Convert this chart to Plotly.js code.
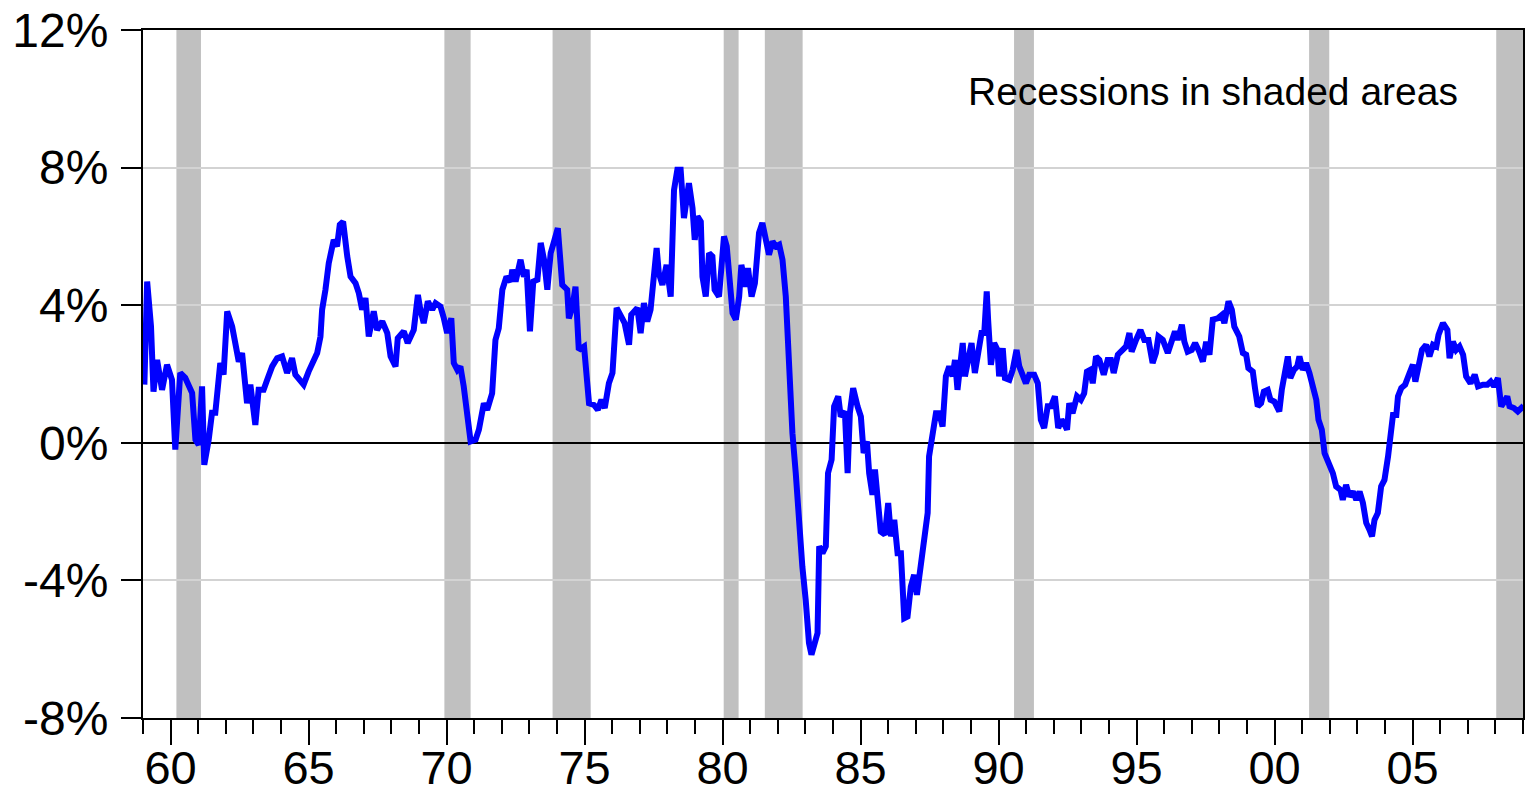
<!DOCTYPE html>
<html>
<head>
<meta charset="utf-8">
<script src="https://cdn.plot.ly/plotly-3.0.1.min.js"></script>
<style>html,body{margin:0;padding:0;background:#fff;}#chart{width:1532px;height:798px;}</style>
</head>
<body>
<div id="chart"></div>
<script>
// ---- data ----
const years = [
1959.05,1959.15,1959.29,1959.38,1959.51,1959.69,1959.87,1960.05,1960.17,1960.35,1960.53,1960.78,1960.90,1961.02,1961.14,1961.22,1961.38,1961.50,1961.62,1961.80,1961.92,
1962.05,1962.23,1962.41,1962.47,1962.59,1962.77,1962.89,1963.07,1963.19,1963.37,1963.50,1963.68,1963.86,1964.04,1964.22,1964.40,1964.52,1964.70,1964.82,
1965.00,1965.19,1965.31,1965.43,1965.49,1965.61,1965.73,1965.91,1966.03,1966.13,1966.25,1966.40,1966.52,1966.70,1966.82,1966.94,1967.06,1967.18,1967.36,1967.48,1967.67,1967.85,1967.97,
1968.15,1968.23,1968.45,1968.59,1968.81,1968.96,1969.05,1969.17,1969.32,1969.48,1969.60,1969.78,1969.90,1970.02,1970.17,1970.26,1970.39,1970.50,1970.62,1970.75,1970.87,
1971.05,1971.17,1971.35,1971.47,1971.65,1971.77,1971.89,1972.02,1972.17,1972.32,1972.38,1972.50,1972.68,1972.80,1972.90,1973.02,1973.14,1973.29,1973.41,1973.53,1973.65,1973.77,1973.91,
1974.03,1974.19,1974.37,1974.43,1974.56,1974.67,1974.79,1974.98,1975.16,1975.34,1975.48,1975.61,1975.73,1975.88,1976.01,1976.16,1976.31,1976.45,1976.61,1976.69,1976.91,
1977.03,1977.15,1977.27,1977.39,1977.51,1977.61,1977.69,1977.82,1977.97,1978.12,1978.24,1978.36,1978.48,1978.60,1978.78,1978.91,1978.99,1979.09,1979.21,1979.27,1979.39,1979.51,1979.63,1979.71,1979.87,
1980.05,1980.15,1980.27,1980.36,1980.48,1980.60,1980.68,1980.84,1980.92,1981.05,1981.17,1981.32,1981.44,1981.56,1981.68,1981.81,1981.93,1982.05,1982.17,1982.29,1982.41,1982.53,1982.65,1982.77,1982.89,
1983.01,1983.13,1983.22,1983.34,1983.44,1983.50,1983.62,1983.74,1983.82,1983.95,1984.04,1984.19,1984.28,1984.43,1984.53,1984.61,1984.73,1984.89,1985.01,1985.11,1985.23,1985.31,1985.43,1985.52,1985.61,1985.73,1985.88,
1986.00,1986.10,1986.22,1986.34,1986.46,1986.58,1986.70,1986.82,1986.94,1987.04,1987.18,1987.30,1987.43,1987.48,1987.61,1987.73,1987.85,1987.97,1988.09,1988.21,1988.33,1988.42,1988.51,1988.57,1988.70,1988.78,1988.94,
1989.02,1989.14,1989.26,1989.38,1989.48,1989.57,1989.62,1989.72,1989.84,1989.96,1990.02,1990.15,1990.23,1990.39,1990.51,1990.65,1990.75,1990.87,1990.99,1991.11,1991.29,1991.42,1991.53,1991.65,1991.78,1991.90,
1992.04,1992.16,1992.28,1992.38,1992.48,1992.56,1992.68,1992.84,1992.98,1993.10,1993.20,1993.32,1993.41,1993.53,1993.65,1993.81,1993.95,1994.07,1994.17,1994.32,1994.50,1994.62,1994.74,1994.82,1994.98,
1995.14,1995.28,1995.43,1995.58,1995.70,1995.79,1995.95,1996.13,1996.25,1996.39,1996.49,1996.64,1996.73,1996.85,1997.00,1997.12,1997.27,1997.40,1997.52,1997.64,1997.76,1997.94,
1998.09,1998.18,1998.33,1998.45,1998.54,1998.72,1998.85,1998.97,1999.05,1999.21,1999.29,1999.39,1999.51,1999.61,1999.75,1999.85,1999.99,
2000.17,2000.26,2000.36,2000.48,2000.57,2000.70,2000.82,2000.90,2001.02,2001.14,2001.26,2001.39,2001.51,2001.59,2001.71,2001.81,2001.99,
2002.11,2002.23,2002.39,2002.47,2002.59,2002.71,2002.84,2002.96,2003.08,2003.20,2003.32,2003.44,2003.53,2003.62,2003.74,2003.86,2003.98,
2004.11,2004.20,2004.29,2004.41,2004.47,2004.59,2004.73,2004.89,2005.01,2005.10,2005.22,2005.34,2005.49,2005.61,2005.74,2005.86,2005.94,
2006.10,2006.26,2006.34,2006.46,2006.58,2006.70,2006.83,2006.94,2007.10,2007.25,2007.37,2007.55,2007.71,2007.83,2007.95,
2008.09,2008.21,2008.33,2008.43,2008.51,2008.67,2008.81,2008.94,2008.99
];
const rates = [
1.69,4.69,3.38,1.49,2.41,1.54,2.27,1.83,-0.20,2.03,1.89,1.45,0.09,-0.06,1.64,-0.64,0.09,0.87,0.87,2.32,1.98,
3.82,3.38,2.70,2.36,2.61,1.15,1.69,0.52,1.54,1.54,1.83,2.22,2.46,2.51,2.03,2.46,1.98,1.83,1.69,
2.07,2.41,2.61,3.09,3.87,4.45,5.22,5.90,5.71,6.34,6.43,5.42,4.83,4.64,4.35,3.87,4.21,3.09,3.82,3.28,3.53,3.19,2.51,
2.22,3.04,3.24,2.90,3.28,4.30,3.87,3.48,4.11,3.87,4.06,3.96,3.62,3.19,3.62,2.32,2.12,2.22,1.64,0.76,0.04,
0.09,0.38,1.15,0.96,1.44,2.99,3.33,4.45,4.83,4.69,5.03,4.69,5.32,4.83,5.03,3.24,4.69,4.74,5.81,5.32,4.45,5.51,5.90,
6.24,4.59,4.45,3.62,3.96,4.54,2.70,2.80,1.15,1.10,0.96,1.25,1.01,1.73,2.03,3.92,3.72,3.48,2.85,3.72,3.92,
3.19,4.06,3.53,3.87,4.74,5.66,4.93,4.59,5.17,4.25,7.35,7.94,7.94,6.53,7.55,6.82,5.90,6.58,6.43,4.83,4.25,5.51,5.42,4.45,4.25,
6.00,5.71,4.45,3.77,3.58,4.25,5.17,4.54,5.08,4.25,4.64,6.10,6.39,6.00,5.47,5.85,5.71,5.76,5.32,4.25,2.22,0.28,-0.88,-2.62,-3.60,
-4.56,-5.82,-6.16,-5.82,-5.53,-3.01,-3.21,-3.01,-0.88,-0.49,1.06,1.35,0.76,0.91,-0.88,0.86,1.59,1.06,0.76,-0.30,0.04,-0.88,-1.51,-0.78,-1.46,-2.58,-2.67,
-1.75,-2.72,-2.24,-3.21,-3.21,-5.10,-5.05,-4.18,-3.84,-4.42,-3.60,-2.62,-2.04,-0.40,0.38,0.86,0.86,0.47,1.93,2.22,1.93,2.41,1.54,2.03,2.90,1.93,2.46,
2.90,2.03,2.51,3.19,3.19,4.40,3.58,2.27,2.90,2.70,1.93,2.75,1.88,1.83,2.12,2.70,2.22,1.98,1.73,1.98,1.98,1.73,0.67,0.43,1.06,1.06,
1.35,0.43,0.67,0.55,0.38,1.15,0.86,1.35,1.25,1.44,2.07,2.12,1.73,2.51,2.41,1.98,2.41,2.41,2.03,2.56,2.70,2.80,3.19,2.65,2.99,
3.28,2.99,2.99,2.32,2.61,3.09,2.99,2.61,2.94,3.24,2.99,3.43,2.94,2.65,2.70,2.90,2.65,2.36,2.94,2.56,3.58,3.62,
3.72,3.48,4.11,3.87,3.38,3.09,2.61,2.56,2.17,2.07,1.59,1.06,1.15,1.49,1.54,1.25,1.20,
0.91,1.54,2.12,2.51,1.88,2.12,2.22,2.51,2.12,2.32,2.03,1.54,1.25,0.67,0.38,-0.30,-0.59,
-0.88,-1.27,-1.37,-1.66,-1.22,-1.56,-1.42,-1.66,-1.42,-1.75,-2.33,-2.53,-2.72,-2.24,-2.04,-1.27,-1.08,
-0.40,0.09,0.81,0.81,1.35,1.59,1.69,2.03,2.27,1.78,2.32,2.70,2.85,2.51,2.85,2.80,3.14,
3.48,3.28,2.46,2.94,2.70,2.80,2.56,1.93,1.73,1.98,1.64,1.69,1.69,1.78,1.64,
1.88,1.06,1.20,1.35,1.06,1.01,0.91,1.01,0.96
];
const recessionStart = [1960.21, 1969.92, 1973.84, 1980.04, 1981.53, 1990.56, 2001.25, 2008.03];
const recessionEnd   = [1961.10, 1970.87, 1975.22, 1980.58, 1982.90, 1991.28, 2001.98, 2009.00];
const xTickVals = [1960, 1965, 1970, 1975, 1980, 1985, 1990, 1995, 2000, 2005];
const xTickText = ['60', '65', '70', '75', '80', '85', '90', '95', '00', '05'];
const yTickVals = [-8, -4, 0, 4, 8, 12];
const yTickText = ['-8%', '-4%', '0%', '4%', '8%', '12%'];
const noteText = 'Recessions in shaded areas';

// ---- chart ----
const FONT = 'Arial, "Liberation Sans", Helvetica, sans-serif';
const shapes = recessionStart.map((s, i) => ({
  type: 'rect', xref: 'x', yref: 'paper', x0: s, x1: recessionEnd[i], y0: 0, y1: 1,
  fillcolor: '#c0c0c0', line: {width: 0}, layer: 'below'
}));

const trace = {
  x: years, y: rates, type: 'scatter', mode: 'lines',
  line: {color: '#0000ff', width: 6, shape: 'linear'},
  hoverinfo: 'skip'
};

const layout = {
  width: 1532, height: 798, autosize: false,
  margin: {l: 143, r: 9, t: 30, b: 80, pad: 0},
  paper_bgcolor: '#ffffff', plot_bgcolor: '#ffffff',
  font: {family: FONT, color: '#000000', size: 47},
  showlegend: false,
  shapes: shapes,
  xaxis: {
    range: [1959, 2009], tickmode: 'array', tickvals: xTickVals, ticktext: xTickText,
    ticks: 'outside', ticklen: 25, tickwidth: 2, tickcolor: '#000',
    tickfont: {family: FONT, size: 47, color: '#000'},
    ticklabelstandoff: -17,
    minor: {tickmode: 'linear', tick0: 1959, dtick: 1, ticks: 'outside', ticklen: 14, tickwidth: 2, tickcolor: '#000', showgrid: false},
    showline: true, linecolor: '#000', linewidth: 2, mirror: true,
    showgrid: false, zeroline: false, fixedrange: true
  },
  yaxis: {
    range: [-8, 12], tickmode: 'array', tickvals: yTickVals, ticktext: yTickText,
    ticks: 'outside', ticklen: 20, tickwidth: 2, tickcolor: '#000',
    tickfont: {family: FONT, size: 48, color: '#000'},
    ticklabelstandoff: 3,
    showline: true, linecolor: '#000', linewidth: 2, mirror: true,
    showgrid: true, gridcolor: '#d3d3d3', gridwidth: 2,
    zeroline: true, zerolinecolor: '#000', zerolinewidth: 2, fixedrange: true
  },
  annotations: [{
    text: noteText, xref: 'paper', yref: 'paper', x: 0.954, y: 0.91,
    xanchor: 'right', yanchor: 'middle', showarrow: false,
    font: {family: FONT, size: 39, color: '#000'}
  }]
};

Plotly.newPlot('chart', [trace], layout, {staticPlot: true, displayModeBar: false});
</script>
</body>
</html>
